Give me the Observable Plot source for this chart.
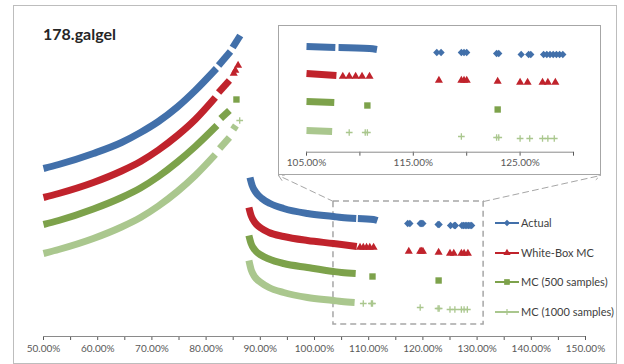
<!DOCTYPE html>
<html><head><meta charset="utf-8">
<script src="https://cdn.jsdelivr.net/npm/d3@7"></script>
<script src="https://cdn.jsdelivr.net/npm/@observablehq/plot@0.6"></script>
<style>
body{margin:0;background:#fff}
#chart{position:relative;width:624px;height:364px;font-family:Lato,sans-serif;overflow:hidden;background:#fff}
#chart > *{position:absolute}
</style></head><body><div id="chart"></div>
<script>
// ---------------- data (x = percent, y = relative value) ----------------
const title = "178.galgel";
const seriesNames = ["Actual", "White-Box MC", "MC (500 samples)", "MC (1000 samples)"];
const seriesColors = ["#4270AA", "#C0232C", "#7DA24B", "#AAC78E"];

const actualBands = [
  [[50.0,168],[52.8,172],[59.2,183],[64.4,194],[67.9,204],[71.2,215],[74.7,229.5],[78.0,246],[81.9,268]],
  [[82.3,271],[84.5,285]],
  [[84.9,289],[86.3,301]],
  [[88.1,159],[88.5,151],[89.2,144],[90.3,138],[91.8,133],[94.3,128],[98.7,123],[103.5,120],[105.0,119],[107.7,118]],
  [[108.0,118],[110.9,117],[111.6,116]]
];
const actualPoints = [[117.2,113],[117.6,113],[119.5,113],[119.75,113],[120.0,113],[122.8,112],[123.0,112],
  [125.1,111],[125.8,111],[126.0,111],[127.2,111],[127.5,111],[127.8,111],[128.1,111],[128.4,111],[128.7,111],[129.0,111]];

const whiteBoxBands = [
  [[50.0,139],[52.8,143],[59.2,154],[64.4,165.5],[67.9,175],[71.2,186.5],[74.7,201],[78.0,217],[81.7,239]],
  [[82.3,244],[84.3,256]],
  [[87.9,129],[88.3,121],[89.0,114],[90.1,108.5],[91.6,104],[94.3,100],[98.7,96],[103.5,93],[105.0,92],[107.8,90]]
];
const whiteBoxPoints = [[85.1,263],[85.4,266],[85.9,271],[108.4,89],[109.0,89],[109.6,89],[110.2,89],[110.9,89],
  [117.4,85],[119.5,85],[119.75,85],[120.0,85],[122.9,84],[125.0,83],[125.7,83],[127.1,83],[127.6,83],[128.3,83]];

const mc500Bands = [
  [[50.0,112],[52.8,116],[59.2,127.5],[64.4,139],[67.9,148.5],[71.2,160],[74.7,174.5],[78.0,190],[82.0,211]],
  [[82.7,218],[84.3,226]],
  [[87.9,101],[88.3,93],[89.0,86.5],[90.1,81.5],[91.6,77.5],[94.3,73],[98.7,69],[103.5,65],[105.0,64],[107.6,63]]
];
const mc500Points = [[85.6,237],[110.7,60],[122.9,56]];

const mc1000Bands = [
  [[50.0,83],[52.8,87],[59.2,98],[64.4,109.5],[67.9,119],[71.2,130.5],[74.7,145],[78.0,161],[81.7,182]],
  [[82.5,188],[84.3,199]],
  [[85.0,207],[85.5,211]],
  [[87.9,76],[88.3,67],[89.0,59.5],[90.1,54],[91.6,49],[94.3,44],[98.7,39],[103.5,36],[105.0,35],[107.4,34]]
];
const mc1000Points = [[86.2,216],[109.0,33],[110.5,33],[110.7,33],[119.5,29],[122.8,28],[123.0,28],
  [125.0,27],[125.9,27],[127.1,27],[127.6,27],[128.2,27]];

const mainTickLabels = [50,60,70,80,90,100,110,120,130,140,150];
const insetTickLabels = [105,115,125];
const zoomBox = {x1: 103.5, x2: 131.2, y1: 12, y2: 135};

// ---------------- build ----------------
const bandsAll = [actualBands, whiteBoxBands, mc500Bands, mc1000Bands];
const pointsAll = [actualPoints, whiteBoxPoints, mc500Points, mc1000Points];

const diamond = {draw(ctx, size) { const h = Math.sqrt(size / 2); ctx.moveTo(0,-h); ctx.lineTo(h,0); ctx.lineTo(0,h); ctx.lineTo(-h,0); ctx.closePath(); }};
const symbolSpec = [
  {symbol: diamond, d3sym: diamond, r: 2.9, filled: true},
  {symbol: "triangle", d3sym: d3.symbolTriangle, r: 3.0, filled: true},
  {symbol: "square", d3sym: d3.symbolSquare, r: 3.6, filled: true},
  {symbol: "plus", d3sym: d3.symbolPlus, r: 2.3, filled: false}
];

function bandRows(i, filter) {
  const rows = [];
  bandsAll[i].forEach((seg, s) => seg.forEach(([x, y]) => { if (filter(x)) rows.push({seg: s, x, y}); }));
  return rows;
}
function pointRows(i, filter) {
  return pointsAll[i].filter(([x]) => filter(x)).map(([x, y]) => ({x, y}));
}
function dataMarks(filterBand, filterPt) {
  const marks = [];
  for (let i = 0; i < 4; i++) {
    marks.push(Plot.line(bandRows(i, filterBand), {x: "x", y: "y", z: "seg", stroke: seriesColors[i], strokeWidth: 7,
      strokeLinecap: "butt", strokeLinejoin: "round", curve: "monotone-x"}));
    const sp = symbolSpec[i];
    marks.push(Plot.dot(pointRows(i, filterPt), {x: "x", y: "y", symbol: sp.symbol, r: sp.r,
      fill: sp.filled ? seriesColors[i] : "none", stroke: sp.filled ? "none" : seriesColors[i], strokeWidth: 1.3}));
  }
  return marks;
}
const fmt = labels => d => labels.includes(d) ? d.toFixed(2) + "%" : "";

const chart = document.getElementById("chart");

const main = Plot.plot({
  width: 624, height: 364,
  marginLeft: 43, marginRight: 39, marginTop: 36, marginBottom: 28,
  style: {fontFamily: "Lato, sans-serif", fontSize: "10px", color: "#595959", background: "transparent", overflow: "visible"},
  x: {domain: [50, 150], ticks: d3.range(50, 151, 5), tickSize: 4, tickPadding: 4, tickFormat: fmt(mainTickLabels), label: null},
  y: {domain: [0, 300], axis: null},
  marks: [
    Plot.ruleY([0], {stroke: "#8a8a8a"}),
    Plot.rect([zoomBox], {x1: "x1", x2: "x2", y1: "y1", y2: "y2", fill: "none", stroke: "#A6A6A6", strokeWidth: 1.5, strokeDasharray: "6,4"}),
    Plot.arrow([{x1: zoomBox.x1, y1: zoomBox.y2, x2: 93.36, y2: 161}, {x1: zoomBox.x2, y1: zoomBox.y2, x2: 152.77, y2: 161}],
      {x1: "x1", y1: "y1", x2: "x2", y2: "y2", stroke: "#A6A6A6", strokeWidth: 1, strokeDasharray: "6,4", headLength: 9, bend: 0}),
    ...dataMarks(() => true, () => true)
  ]
});
main.style.left = "0px"; main.style.top = "0px";
chart.appendChild(main);

const inset = Plot.plot({
  width: 322, height: 149,
  marginLeft: 28, marginRight: 27, marginTop: 5, marginBottom: 22.3,
  style: {fontFamily: "Lato, sans-serif", fontSize: "10px", color: "#595959", background: "#fff", overflow: "visible"},
  x: {domain: [105, 130], ticks: d3.range(105, 131, 5), tickSize: 4, tickPadding: 3, tickFormat: fmt(insetTickLabels), label: null},
  y: {domain: [13.3, 135], axis: null},
  marks: [
    Plot.ruleY([13.3], {stroke: "#8a8a8a"}),
    ...dataMarks(x => x >= 105, x => x >= 104.5)
  ]
});
inset.style.left = "278px"; inset.style.top = "25px";
chart.appendChild(inset);

const insetBorder = document.createElement("div");
Object.assign(insetBorder.style, {left: "278px", top: "25px", width: "323px", height: "150px", border: "1px solid #A6A6A6", boxSizing: "border-box"});
chart.appendChild(insetBorder);

const outer = document.createElement("div");
Object.assign(outer.style, {left: "13px", top: "5px", width: "604px", height: "359px", border: "1px solid #BDBDBD", boxSizing: "border-box"});
chart.appendChild(outer);

// title + legend overlay
const ov = d3.create("svg").attr("width", 624).attr("height", 364).style("left", "0px").style("top", "0px")
  .style("font-family", "Lato, sans-serif");
ov.append("text").attr("x", 43).attr("y", 40).attr("font-size", 16).attr("font-weight", "bold").attr("fill", "#262626").text(title);
const legendY = [223, 253, 282, 312];
seriesNames.forEach((name, i) => {
  const g = ov.append("g").attr("transform", `translate(0,${legendY[i]})`);
  g.append("line").attr("x1", 495).attr("x2", 519).attr("y1", 0).attr("y2", 0).attr("stroke", seriesColors[i]).attr("stroke-width", 2);
  const sp = symbolSpec[i];
  const size = Math.PI * sp.r * sp.r * 0.8;
  g.append("path").attr("transform", "translate(507,0)").attr("d", d3.symbol(sp.d3sym, size)())
    .attr("fill", sp.filled ? seriesColors[i] : "none").attr("stroke", sp.filled ? "none" : seriesColors[i]).attr("stroke-width", 1.2);
  g.append("text").attr("x", 521).attr("y", 4).attr("font-size", 11).attr("fill", "#404040").text(name);
});
chart.appendChild(ov.node());
</script></body></html>
